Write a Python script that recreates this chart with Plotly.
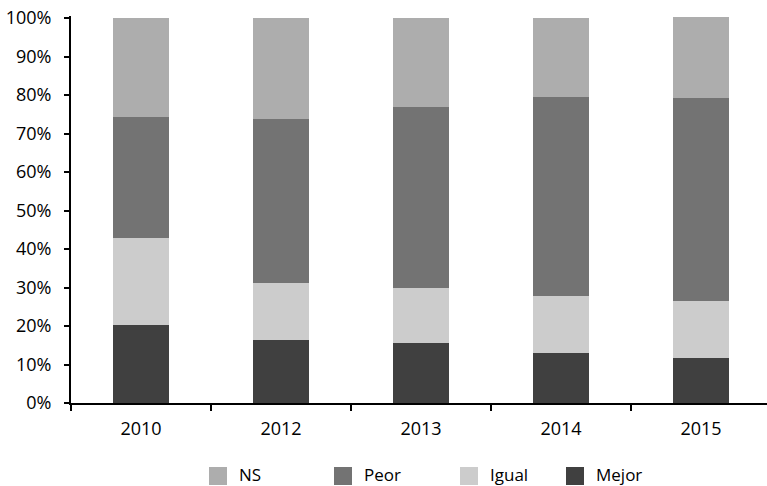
import plotly.graph_objects as go

# Survey answers per year (share of respondents)
years = ["2010", "2012", "2013", "2014", "2015"]
mejor = [0.203, 0.164, 0.156, 0.130, 0.117]
igual = [0.226, 0.148, 0.143, 0.148, 0.148]
peor = [0.315, 0.426, 0.471, 0.518, 0.528]
ns = [0.256, 0.262, 0.230, 0.204, 0.210]

y_ticks = [0, 0.1, 0.2, 0.3, 0.4, 0.5, 0.6, 0.7, 0.8, 0.9, 1.0]

# stacking order bottom -> top
series = [
    ("Mejor", mejor, "#404040"),
    ("Igual", igual, "#cccccc"),
    ("Peor", peor, "#737373"),
    ("NS", ns, "#adadad"),
]

FONT = "Open Sans"
FS = 18
W, H = 767, 486
ML, MR, MT, MB = 71, 0, 16, 83
plot_w = W - ML - MR
plot_h = H - MT - MB
px_per_unit = 385.0  # pixels for 100 %
band_px = 140.0      # pixels per year category

fig = go.Figure()
for name, vals, color in series:
    fig.add_trace(go.Bar(
        x=years, y=vals, name=name,
        marker=dict(color=color, line=dict(width=0)),
        showlegend=False,
    ))

# hand-built legend row (NS, Peor, Igual, Mejor)
legend_left_px = [209, 334, 460, 566]
legend_top_px, legend_bot_px = 467, 485
shapes = []
annotations = []
for (name, _, color), left in zip(series[::-1], legend_left_px):
    x0 = (left - ML) / plot_w
    x1 = (left + 18 - ML) / plot_w
    y0 = (MT + plot_h - legend_bot_px) / plot_h
    y1 = (MT + plot_h - legend_top_px) / plot_h
    shapes.append(dict(type="rect", xref="paper", yref="paper",
                       x0=x0, x1=x1, y0=y0, y1=y1,
                       fillcolor=color, line=dict(width=0)))
    annotations.append(dict(
        text=name, xref="paper", yref="paper",
        x=(left + 29 - ML) / plot_w, y=(MT + plot_h - 475) / plot_h,
        xanchor="left", yanchor="middle", showarrow=False, borderpad=0,
        font=dict(family=FONT, size=17, color="#000000"),
    ))

fig.update_layout(
    width=W, height=H,
    margin=dict(l=ML, r=MR, t=MT, b=MB, pad=0),
    barmode="stack",
    bargap=0.595,
    plot_bgcolor="white",
    paper_bgcolor="white",
    font=dict(family=FONT, size=FS, color="#000000"),
    shapes=shapes,
    annotations=annotations,
    showlegend=False,
)

fig.update_xaxes(
    type="category",
    range=[-0.5, -0.5 + plot_w / band_px],
    tickson="boundaries",
    ticks="outside", ticklen=6, tickwidth=2, tickcolor="#000000",
    ticklabelstandoff=8,
    showline=True, linecolor="#000000", linewidth=2,
    showgrid=False, zeroline=False,
    tickfont=dict(family=FONT, size=FS, color="#000000"),
)

fig.update_yaxes(
    range=[0, plot_h / px_per_unit],
    tickvals=y_ticks,
    tickformat=".0%",
    ticks="outside", ticklen=5, tickwidth=2, tickcolor="#000000",
    ticklabelstandoff=9,
    showline=True, linecolor="#000000", linewidth=2,
    showgrid=False, zeroline=False,
    tickfont=dict(family=FONT, size=FS, color="#000000"),
)

fig.write_html("out.html")
